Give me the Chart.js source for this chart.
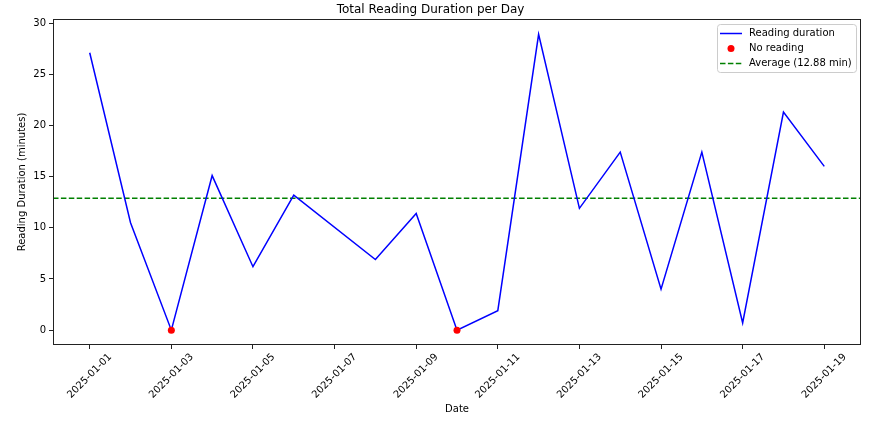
<!DOCTYPE html>
<html>
<head>
<meta charset="utf-8">
<script src="https://cdn.jsdelivr.net/npm/chart.js@4/dist/chart.umd.min.js"></script>
<style>
  html, body { margin: 0; padding: 0; background: #fff; }
  #wrap { width: 892px; height: 424px; }
</style>
</head>
<body>
<div id="wrap"><canvas id="readingChart" width="892" height="424"></canvas></div>
<script>
const dates = ["2025-01-01", "2025-01-02", "2025-01-03", "2025-01-04", "2025-01-05", "2025-01-06",
	"2025-01-08", "2025-01-09", "2025-01-10", "2025-01-11", "2025-01-12", "2025-01-13",
	"2025-01-14", "2025-01-15", "2025-01-16", "2025-01-17", "2025-01-18", "2025-01-19"];
const minutes = [27.1, 10.5, 0, 15.1, 6.2, 13.2, 6.9, 11.4, 0, 1.9, 28.9, 11.9, 17.4, 4.0, 17.4, 0.7, 21.3, 16.0];
const noReadingDates = ["2025-01-03", "2025-01-10"];
const AVERAGE = 12.88;
const yTicks = [0, 5, 10, 15, 20, 25, 30];

const DAY = 86400000;
const start = Date.parse(dates[0]);
const dayIndex = d => (Date.parse(d) - start) / DAY;
const dateLabel = v => new Date(start + v * DAY).toISOString().slice(0, 10);

const FONT = "'DejaVu Sans', sans-serif";
const avgLabel = "Average (" + AVERAGE.toFixed(2) + " min)";

const lineData = dates.map((d, i) => ({x: dayIndex(d), y: minutes[i]}));
const zeroData = noReadingDates.map(d => ({x: dayIndex(d), y: minutes[dates.indexOf(d)]}));

// frame, average line, rotated date labels and legend
const extras = {
	id: "extras",
	beforeDatasetsDraw(chart) {
		const {ctx, chartArea: a, scales: {y}} = chart;
		const yy = y.getPixelForValue(AVERAGE);
		ctx.save();
		ctx.strokeStyle = "#008000";
		ctx.lineWidth = 1.5;
		ctx.setLineDash([5.5, 2.4]);
		ctx.beginPath();
		ctx.moveTo(a.left, yy);
		ctx.lineTo(a.right, yy);
		ctx.stroke();
		ctx.restore();
	},
	afterDraw(chart) {
		const {ctx, chartArea: a, scales: {x}} = chart;
		ctx.save();
		ctx.strokeStyle = "#222";
		ctx.lineWidth = 1;
		ctx.strokeRect(Math.round(a.left) + 0.5, Math.round(a.top) + 0.5,
			Math.round(a.right - a.left) - 1, Math.round(a.bottom - a.top) - 1);

		ctx.fillStyle = "#000";
		ctx.font = "10px " + FONT;
		ctx.textAlign = "center";
		ctx.textBaseline = "middle";
		x.ticks.forEach(t => {
			const px = x.getPixelForValue(t.value);
			ctx.save();
			ctx.translate(px, a.bottom + 31);
			ctx.rotate(-Math.PI / 4);
			ctx.fillText(dateLabel(t.value), 0, 0);
			ctx.restore();
		});

		// legend
		const lx = 717, ly = 24, lw = 139, lh = 48;
		ctx.fillStyle = "rgba(255,255,255,0.8)";
		ctx.strokeStyle = "#cccccc";
		ctx.beginPath();
		ctx.roundRect(lx + 0.5, ly + 0.5, lw, lh, 3);
		ctx.fill();
		ctx.stroke();
		const rows = [ly + 9.5, ly + 24.5, ly + 39.5];
		const ds = chart.data.datasets;
		ctx.lineWidth = 1.5;
		ctx.strokeStyle = ds[0].borderColor;
		ctx.beginPath(); ctx.moveTo(lx + 3, rows[0]); ctx.lineTo(lx + 25, rows[0]); ctx.stroke();
		ctx.fillStyle = ds[1].backgroundColor;
		ctx.beginPath(); ctx.arc(lx + 14, rows[1], 3.5, 0, Math.PI * 2); ctx.fill();
		ctx.strokeStyle = "#008000";
		ctx.setLineDash([5.5, 2.4]);
		ctx.beginPath(); ctx.moveTo(lx + 3, rows[2]); ctx.lineTo(lx + 25, rows[2]); ctx.stroke();
		ctx.setLineDash([]);
		ctx.fillStyle = "#000";
		ctx.textAlign = "left";
		[ds[0].label, ds[1].label, avgLabel].forEach((t, i) => ctx.fillText(t, lx + 32, rows[i]));
		ctx.restore();
	}
};

new Chart(document.getElementById("readingChart"), {
	type: "line",
	data: {
		datasets: [{
			label: "Reading duration",
			data: lineData,
			borderColor: "#0000ff",
			backgroundColor: "#0000ff",
			borderWidth: 1.5,
			pointRadius: 0,
			tension: 0,
			order: 2
		}, {
			label: "No reading",
			type: "scatter",
			data: zeroData,
			backgroundColor: "#ff0000",
			borderWidth: 0,
			pointRadius: 3.5,
			order: 1
		}]
	},
	options: {
		responsive: false,
		animation: false,
		devicePixelRatio: 1,
		layout: {padding: {left: 0, right: 31, top: 0, bottom: 0}},
		plugins: {
			legend: {display: false},
			tooltip: {enabled: false},
			title: {
				display: true,
				text: "Total Reading Duration per Day",
				color: "#000",
				font: {family: FONT, size: 12, weight: "normal"},
				padding: {top: 3, bottom: 1.6}
			}
		},
		scales: {
			x: {
				type: "linear",
				min: -0.9,
				max: 18.9,
				afterFit: s => { s.height = 79; },
				grid: {drawOnChartArea: false, drawTicks: true, tickLength: 4, color: "#222"},
				border: {display: false},
				ticks: {display: false, stepSize: 2, includeBounds: false},
				title: {display: true, text: "Date", color: "#000", font: {family: FONT, size: 10}, padding: {top: 0, bottom: 9}}
			},
			y: {
				min: -1.45,
				max: 30.4,
				afterFit: s => { s.width = 53; },
				afterBuildTicks: s => { s.ticks = yTicks.map(v => ({value: v})); },
				grid: {drawOnChartArea: false, drawTicks: true, tickLength: 4, color: "#222"},
				border: {display: false},
				ticks: {color: "#000", padding: 3, font: {family: FONT, size: 10}},
				title: {display: true, text: "Reading Duration (minutes)", color: "#000", font: {family: FONT, size: 10}, padding: {top: 16, bottom: 0}}
			}
		}
	},
	plugins: [extras]
});
</script>
</body>
</html>
